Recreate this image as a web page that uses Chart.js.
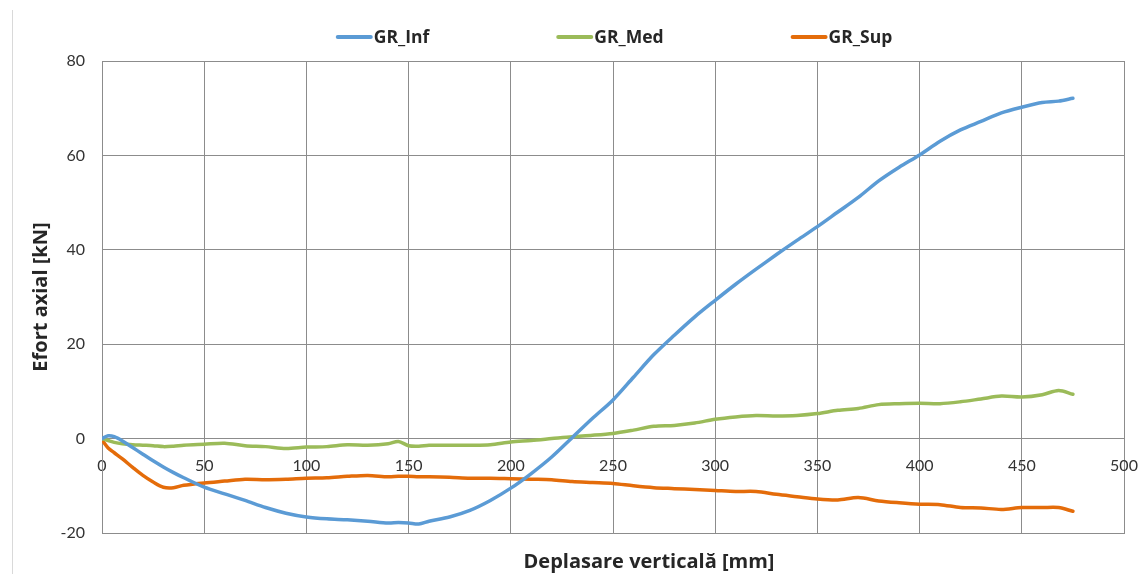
<!DOCTYPE html>
<html>
<head>
<meta charset="utf-8">
<script src="https://cdn.jsdelivr.net/npm/chart.js@4.4.1/dist/chart.umd.min.js"></script>
<style>
  html, body { margin: 0; padding: 0; background: #ffffff; }
  #wrap { position: relative; width: 1144px; height: 574px; overflow: hidden; }
  #frame { position: absolute; left: 12px; top: 10px; width: 1px; height: 564px; background: #d9d9d9; }
  #c { position: absolute; left: 0; top: 0; }
</style>
</head>
<body>
<div id="wrap">
  <div id="frame"></div>
  <canvas id="c" width="1144" height="574"></canvas>
</div>
<script>
// Vertical displacement [mm] at which the axial forces were recorded
const disp = [0, 3, 6, 10, 15, 20, 25, 30, 35, 40, 50, 60, 70, 80, 90, 100, 110, 120, 130, 140,
  145, 150, 155, 160, 170, 180, 190, 200, 210, 220, 230, 240, 250, 260, 270, 280, 290, 300, 310, 320,
  330, 340, 350, 360, 370, 380, 390, 400, 410, 420, 430, 440, 450, 460, 468, 475];

// Axial force [kN] in each member
const grInf = [0, 0.6, 0.4, -0.5, -1.9, -3.3, -4.7, -6.0, -7.2, -8.3, -10.3, -11.7, -13.1, -14.6, -15.8, -16.6, -17.0, -17.2, -17.5, -17.9,
  -17.8, -17.9, -18.1, -17.5, -16.6, -15.2, -13.1, -10.5, -7.4, -3.9, 0.2, 4.3, 8.2, 13.0, 17.8, 21.9, 25.8, 29.3, 32.7, 35.9,
  39.0, 42.0, 44.9, 48.0, 51.1, 54.6, 57.5, 60.1, 63.0, 65.4, 67.2, 69.0, 70.2, 71.2, 71.5, 72.1];

const grMed = [0, -0.4, -0.8, -1.1, -1.3, -1.4, -1.5, -1.7, -1.6, -1.4, -1.2, -1.0, -1.5, -1.7, -2.1, -1.8, -1.7, -1.3, -1.4, -1.1,
  -0.6, -1.5, -1.6, -1.4, -1.4, -1.4, -1.3, -0.7, -0.4, 0.0, 0.4, 0.7, 1.1, 1.8, 2.6, 2.8, 3.3, 4.1, 4.6, 4.9,
  4.8, 4.9, 5.3, 6.0, 6.4, 7.2, 7.4, 7.5, 7.4, 7.8, 8.4, 9.0, 8.8, 9.3, 10.2, 9.4];

const grSup = [-0.3, -2.0, -3.0, -4.3, -6.1, -7.8, -9.2, -10.3, -10.4, -9.9, -9.4, -9.0, -8.6, -8.7, -8.6, -8.4, -8.3, -8.0, -7.8, -8.1,
  -8.0, -8.0, -8.1, -8.1, -8.2, -8.4, -8.4, -8.5, -8.6, -8.7, -9.1, -9.3, -9.5, -10.0, -10.4, -10.6, -10.8, -11.0, -11.2, -11.2,
  -11.8, -12.3, -12.8, -13.0, -12.5, -13.2, -13.6, -13.9, -14.0, -14.6, -14.7, -15.0, -14.6, -14.6, -14.6, -15.4];

const seriesNames = ['GR_Inf', 'GR_Med', 'GR_Sup'];
const seriesColors = ['#5b9bd5', '#9bbb59', '#e46c0a'];

// Axis ranges and tick steps
const xRange = [0, 500];
const xStep = 50;
const yRange = [-20, 80];
const yStep = 20;

const xTitle = 'Deplasare verticală [mm]';
const yTitle = 'Efort axial [kN]';

const TICK_FONT = 'Lato, "Open Sans", "DejaVu Sans", sans-serif';
const LABEL_FONT = '"Open Sans", Lato, "DejaVu Sans", sans-serif';
const gridColor = '#8c8c8c';
const textColor = '#333333';

function toPoints(values) {
  return disp.map((x, i) => ({ x: x, y: values[i] }));
}

// Horizontal legend drawn as short line samples followed by the series name;
// also moves the x-axis title box so the title sits right of the plot centre.
const lineLegend = {
  id: 'lineLegend',
  afterLayout(chart, args, opts) {
    const s = chart.scales.xAxisTitle;
    if (s) s.left += opts.titleShift;
  },
  afterDraw(chart, args, opts) {
    const ctx = chart.ctx;
    ctx.save();
    ctx.font = opts.font;
    ctx.textBaseline = 'middle';
    ctx.textAlign = 'left';
    const items = chart.data.datasets.map(ds => ({
      label: ds.label,
      color: ds.borderColor,
      w: ctx.measureText(ds.label).width
    }));
    const widths = items.map(it => opts.lineLength + opts.textGap + it.w);
    const total = widths.reduce((a, b) => a + b, 0) + opts.gap * (items.length - 1);
    let x = opts.center - total / 2;
    items.forEach((it, i) => {
      ctx.strokeStyle = it.color;
      ctx.lineWidth = opts.lineWidth;
      ctx.lineCap = 'round';
      ctx.beginPath();
      ctx.moveTo(x, opts.y);
      ctx.lineTo(x + opts.lineLength, opts.y);
      ctx.stroke();
      ctx.fillStyle = opts.color;
      ctx.fillText(it.label, x + opts.lineLength + opts.textGap, opts.y + 1);
      x += widths[i] + opts.gap;
    });
    ctx.restore();
  }
};

const datasets = [grInf, grMed, grSup].map((vals, i) => ({
  label: seriesNames[i],
  data: toPoints(vals),
  borderColor: seriesColors[i],
  backgroundColor: seriesColors[i],
  borderWidth: 3.5,
  pointRadius: 0,
  fill: false,
  tension: 0.3,
  borderCapStyle: 'round',
  borderJoinStyle: 'round'
}));

new Chart(document.getElementById('c'), {
  type: 'line',
  data: { datasets: datasets },
  options: {
    responsive: false,
    animation: false,
    devicePixelRatio: 1,
    layout: { padding: { top: 61, right: 20, bottom: 0, left: 0 } },
    plugins: {
      legend: { display: false },
      tooltip: { enabled: false },
      lineLegend: {
        font: 'bold 17.5px ' + LABEL_FONT,
        color: '#262626',
        lineLength: 33,
        textGap: 3,
        lineWidth: 4,
        gap: 129,
        center: 615,
        y: 37,
        titleShift: 72
      }
    },
    scales: {
      // value axis along the bottom; its labels are mirrored up to sit under the zero line
      x: {
        type: 'linear',
        position: 'bottom',
        weight: 0,
        min: xRange[0],
        max: xRange[1],
        ticks: { stepSize: xStep, mirror: true, padding: 58, color: textColor, font: { family: TICK_FONT, size: 16 } },
        grid: { color: gridColor, lineWidth: 1, drawTicks: false },
        border: { display: true, color: gridColor },
        afterFit(scale) {
          scale.height = 0;
          scale.paddingLeft = 0;
          scale.paddingRight = 0;
        }
      },
      xAxisTitle: {
        type: 'linear',
        position: 'bottom',
        weight: 1,
        min: xRange[0],
        max: xRange[1],
        ticks: { display: false },
        grid: { display: false, drawTicks: false },
        border: { display: false },
        title: {
          display: true,
          text: xTitle,
          color: '#262626',
          font: { family: LABEL_FONT, size: 20, weight: 'bold' },
          padding: { top: 0, bottom: 0 }
        },
        afterFit(scale) { scale.height = 41; }
      },
      y: {
        type: 'linear',
        min: yRange[0],
        max: yRange[1],
        ticks: { stepSize: yStep, padding: 17, color: textColor, font: { family: TICK_FONT, size: 16 } },
        grid: { color: gridColor, lineWidth: 1, drawTicks: false },
        border: { display: true, color: gridColor },
        title: {
          display: true,
          text: yTitle,
          color: '#262626',
          font: { family: LABEL_FONT, size: 20, weight: 'bold' },
          padding: { top: 29, bottom: 0 }
        },
        afterFit(scale) { scale.width = 102; }
      }
    }
  },
  plugins: [lineLegend]
});
</script>
</body>
</html>
